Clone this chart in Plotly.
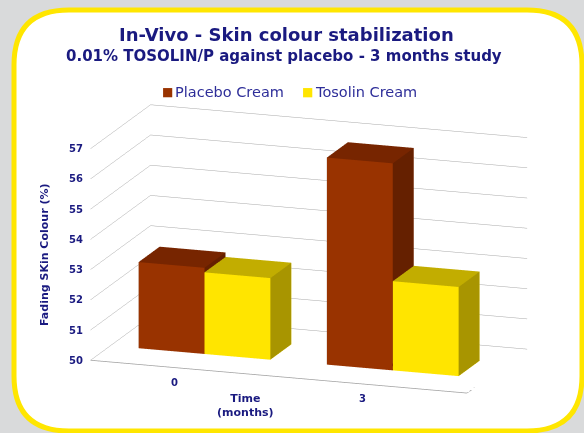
import plotly.graph_objects as go

# ---- data ----
categories = ["0", "3"]              # time (months)
cat_pos = [0, 1]
series_names = ["Placebo Cream", "Tosolin Cream"]
placebo = [52.85, 56.85]
tosolin = [52.7, 52.95]
z_ticks = [50, 51, 52, 53, 54, 55, 56, 57]

front_colors = ["#993300", "#FFE500"]
top_colors = ["#772500", "#C2AD00"]
side_colors = ["#652000", "#A89500"]

NAVY = "#1A1A80"
W, H = 584, 433

bar_w = 0.35
depth0, depth1 = 0.33, 0.68
zmin, zmax = 50, 57
xmin, xmax = -0.5, 1.5

fig = go.Figure()


def box(x0, x1, y0, y1, z0, z1, cf, ct, cs, name):
    xs = [x0, x1, x1, x0, x0, x1, x1, x0]
    ys = [y0, y0, y1, y1, y0, y0, y1, y1]
    zs = [z0, z0, z0, z0, z1, z1, z1, z1]
    I = [0, 0, 4, 4, 0, 0, 3, 3, 0, 0, 1, 1]
    J = [1, 2, 5, 6, 1, 5, 2, 6, 3, 7, 2, 6]
    K = [2, 3, 6, 7, 5, 4, 6, 7, 7, 4, 6, 5]
    fc = [cf, cf, ct, ct, cf, cf, cf, cf, cs, cs, cs, cs]
    return go.Mesh3d(x=xs, y=ys, z=zs, i=I, j=J, k=K, facecolor=fc,
                     flatshading=True,
                     lighting=dict(ambient=1, diffuse=0, specular=0, roughness=1, fresnel=0),
                     hoverinfo="skip", showlegend=False, name=name)


vals = [placebo, tosolin]
for s in range(2):
    for c in range(len(categories)):
        x0 = cat_pos[c] - bar_w + s * bar_w
        fig.add_trace(box(x0, x0 + bar_w, depth0, depth1, zmin, vals[s][c],
                          front_colors[s], top_colors[s], side_colors[s], series_names[s]))

# floor front & right edges
fig.add_trace(go.Scatter3d(x=[xmin, xmax, xmax], y=[0, 0, 1], z=[zmin, zmin, zmin],
                           mode="lines", line=dict(color="#A0A0A0", width=1.5),
                           hoverinfo="skip", showlegend=False))

# axis tick labels placed through the 3D scene
scene_ann = []
for t in z_ticks:
    scene_ann.append(dict(x=xmin, y=0, z=t, text=f"<b>{t}</b>", showarrow=False,
                          xanchor="right", yanchor="middle", xshift=-6,
                          font=dict(size=10, color=NAVY)))
for p, c in zip(cat_pos, categories):
    scene_ann.append(dict(x=p, y=0, z=zmin, text=f"<b>{c}</b>", showarrow=False,
                          xanchor="center", yanchor="middle", xshift=-10, yshift=-14,
                          font=dict(size=10, color=NAVY)))

axis_common = dict(showbackground=False, zeroline=False, showspikes=False,
                   showticklabels=False, ticks="", title=dict(text=""), showline=False)
fig.update_layout(
    width=W, height=H,
    paper_bgcolor="#D9DADB", plot_bgcolor="rgba(0,0,0,0)",
    margin=dict(l=0, r=0, t=0, b=0),
    font=dict(family="DejaVu Sans", color=NAVY),
    showlegend=False,
    scene=dict(
        domain=dict(x=[0, 1], y=[0, 1]),
        xaxis=dict(range=[xmin, xmax], tickvals=cat_pos, showgrid=False, **axis_common),
        yaxis=dict(range=[0, 1], showgrid=False, **axis_common),
        zaxis=dict(range=[zmin, zmax], tickvals=z_ticks, gridcolor="#A8A8A8", gridwidth=1,
                   **axis_common),
        aspectmode="manual", aspectratio=dict(x=1.84, y=0.85, z=1.01),
        camera=dict(eye=dict(x=0.87, y=-2.76, z=0.91),
                    center=dict(x=-0.092, y=0.028, z=0.14),
                    projection=dict(type="orthographic")),
        bgcolor="rgba(0,0,0,0)",
        annotations=scene_ann,
    ),
)


def px(x):
    return x / W


def py(y):
    return 1 - y / H


L, T, R, B, rad = 14, 10, 582, 431, 55
path = (f"M {px(L+rad)},{py(T)} L {px(R-rad)},{py(T)} Q {px(R)},{py(T)} {px(R)},{py(T+rad)} "
        f"L {px(R)},{py(B-rad)} Q {px(R)},{py(B)} {px(R-rad)},{py(B)} "
        f"L {px(L+rad)},{py(B)} Q {px(L)},{py(B)} {px(L)},{py(B-rad)} "
        f"L {px(L)},{py(T+rad)} Q {px(L)},{py(T)} {px(L+rad)},{py(T)} Z")
fig.add_shape(type="path", path=path, xref="paper", yref="paper",
              fillcolor="white", line=dict(color="#FFE600", width=5), layer="below")


def ann(text, x, y, size, **kw):
    fig.add_annotation(text=text, x=px(x), y=py(y), xref="paper", yref="paper",
                       showarrow=False, xanchor=kw.pop("xanchor", "center"),
                       yanchor="middle", font=dict(size=size, color=kw.pop("color", NAVY)), **kw)


ann("<b>In-Vivo - Skin colour stabilization</b>", 286, 34, 18)
ann("<b>0.01% TOSOLIN/P against placebo - 3 months study</b>", 284, 56, 15)
ann("■", 167, 92, 12, color=front_colors[0])
ann(series_names[0], 173, 92, 14.5, xanchor="left", color="#2E2E99")
ann("■", 307, 92, 12, color=front_colors[1])
ann(series_names[1], 313, 92, 14.5, xanchor="left", color="#2E2E99")
ann("<b>Fading SKin Colour (%)</b>", 44, 255, 11, textangle=-90)
ann("<b>Time<br>(months)</b>", 245, 405, 11)

fig.write_html("out.html", config={"displayModeBar": False},
               post_script="document.body.style.margin='0';document.body.style.overflow='hidden';")
